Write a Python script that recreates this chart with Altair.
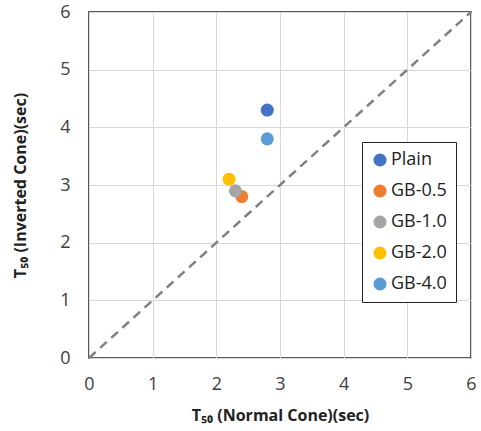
import altair as alt
import pandas as pd

series = ["Plain", "GB-0.5", "GB-1.0", "GB-2.0", "GB-4.0"]
normal_cone = [2.8, 2.4, 2.3, 2.2, 2.8]
inverted_cone = [4.3, 2.8, 2.9, 3.1, 3.8]
colors = ["#4472C4", "#ED7D31", "#A5A5A5", "#FFC000", "#5B9BD5"]
line_x = [0, 6]
line_y = [0, 6]
ticks = [0, 1, 2, 3, 4, 5, 6]

df = pd.DataFrame({"series": series, "x": normal_cone, "y": inverted_cone})
ldf = pd.DataFrame({"x": line_x, "y": line_y})

FONT = "Open Sans"

xs = alt.Scale(domain=[0, 6], nice=False)
ys = alt.Scale(domain=[0, 6], nice=False)

xaxis = alt.Axis(values=ticks, format="d", title="T₅₀ (Normal Cone)(sec)", grid=True, gridColor="#d9d9d9",
                 domain=False, ticks=False, labelPadding=17, labelFontSize=18, labelColor="#404040",
                 labelFlush=False,
                 titleFontSize=16, titleFontWeight="bold", titleColor="#222222", titlePadding=14,
                 labelFont=FONT, titleFont=FONT)
yaxis = alt.Axis(values=ticks, format="d", title="T₅₀ (Inverted Cone)(sec)", grid=True, gridColor="#d9d9d9",
                 domain=False, ticks=False, labelPadding=19, labelFontSize=18, labelColor="#404040",
                 labelFlush=False,
                 titleFontSize=16, titleFontWeight="bold", titleColor="#222222", titlePadding=31,
                 labelFont=FONT, titleFont=FONT)

line = alt.Chart(ldf).mark_line(color="#808080", strokeWidth=2.5, strokeDash=[9, 6]).encode(
    x=alt.X("x:Q", scale=xs, axis=xaxis),
    y=alt.Y("y:Q", scale=ys, axis=yaxis),
)

pts = alt.Chart(df).mark_circle(size=170, opacity=1).encode(
    x=alt.X("x:Q", scale=xs),
    y=alt.Y("y:Q", scale=ys),
    color=alt.Color("series:N", scale=alt.Scale(domain=series, range=colors),
                    legend=alt.Legend(title=None, orient="none", legendX=273, legendY=130,
                                      strokeColor="#222222", fillColor="white", padding=9,
                                      symbolType="circle", symbolSize=170, labelFontSize=18,
                                      labelFont=FONT, labelColor="#222222", rowPadding=13,
                                      symbolStrokeWidth=0, labelOffset=2)),
)

chart = alt.layer(line, pts).properties(
    width=382, height=346,
    padding={"left": 89, "top": 12, "right": 10, "bottom": 73},
    autosize="none",
).configure_view(stroke="#222222", strokeWidth=1.5)

chart.save("out.html", embed_options={"renderer": "svg", "actions": False})
